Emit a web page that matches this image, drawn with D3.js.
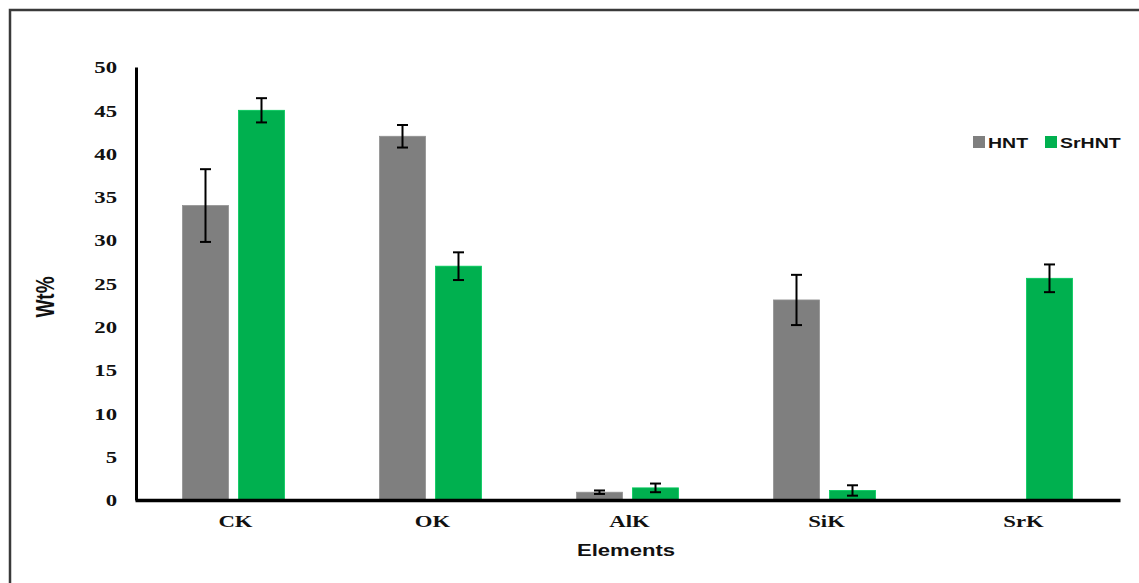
<!DOCTYPE html>
<html>
<head>
<meta charset="utf-8">
<script src="https://cdn.jsdelivr.net/npm/d3@7"></script>
<style>
  body { margin: 0; background: #fff; }
  svg { display: block; }
</style>
</head>
<body>
<div id="chart"></div>
<script>
// EDS element composition, HNT vs SrHNT
const categories = ["CK", "OK", "AlK", "SiK", "SrK"];
const hntValues = [34.0, 42.0, 0.9, 23.1, 0];
const hntErrors = [4.2, 1.3, 0.2, 2.9, 0];
const srhntValues = [45.0, 27.0, 1.4, 1.1, 25.6];
const srhntErrors = [1.4, 1.6, 0.5, 0.6, 1.6];
const seriesNames = ["HNT", "SrHNT"];
const seriesColors = ["#7f7f7f", "#00b04f"];
const yTicks = [0, 5, 10, 15, 20, 25, 30, 35, 40, 45, 50];

const W = 1139, H = 583;
const stretch = 1.38; // the original text is drawn wide

const svg = d3.select("#chart").append("svg")
  .attr("width", W)
  .attr("height", H);

// outer frame (open on right and bottom, runs off the picture)
svg.append("rect")
  .attr("x", 10).attr("y", 10)
  .attr("width", 1150).attr("height", 600)
  .attr("fill", "none")
  .attr("stroke", "#3a3a3a")
  .attr("stroke-width", 2.5);

const xScale = d3.scaleBand().domain(categories).range([135, 1120]);
const yScale = d3.scaleLinear().domain([0, 50]).range([500, 67]);

const barW = 46, gap = 10;
const series = [
  { name: seriesNames[0], values: hntValues, errors: hntErrors, color: seriesColors[0], off: -gap / 2 - barW },
  { name: seriesNames[1], values: srhntValues, errors: srhntErrors, color: seriesColors[1], off: gap / 2 }
];

// bars
series.forEach(function(s) {
  svg.append("g").selectAll("rect")
    .data(categories)
    .enter()
    .append("rect")
    .attr("x", function(d) { return xScale(d) + xScale.bandwidth() / 2 + s.off; })
    .attr("y", function(d, i) { return yScale(s.values[i]); })
    .attr("width", barW)
    .attr("height", function(d, i) { return yScale(0) - yScale(s.values[i]); })
    .attr("fill", s.color)
    .attr("stroke", d3.color(s.color).brighter(0.4))
    .attr("stroke-width", 0.8);
});

// error bars
series.forEach(function(s) {
  const g = svg.append("g").attr("stroke", "#000").attr("stroke-width", 2);
  categories.forEach(function(c, i) {
    if (s.values[i] <= 0) return;
    const cx = xScale(c) + xScale.bandwidth() / 2 + s.off + barW / 2;
    const hi = yScale(s.values[i] + s.errors[i]);
    const lo = yScale(s.values[i] - s.errors[i]);
    g.append("line").attr("x1", cx).attr("x2", cx).attr("y1", hi).attr("y2", lo);
    g.append("line").attr("x1", cx - 5.5).attr("x2", cx + 5.5).attr("y1", hi).attr("y2", hi);
    g.append("line").attr("x1", cx - 5.5).attr("x2", cx + 5.5).attr("y1", lo).attr("y2", lo);
  });
});

// y axis
const gY = svg.append("g")
  .attr("transform", "translate(136,0)")
  .call(d3.axisLeft(yScale).tickValues(yTicks).tickSize(0).tickSizeOuter(0));
gY.select(".domain").attr("stroke", "#000").attr("stroke-width", 3);
gY.selectAll(".tick text")
  .attr("x", -19 / stretch)
  .attr("dy", "0.35em")
  .attr("transform", "scale(" + stretch + ",1)")
  .style("font-family", "'Liberation Serif', 'Times New Roman', serif")
  .style("font-weight", "bold")
  .style("font-size", "16.5px")
  .style("fill", "#111");

// x axis
const gX = svg.append("g")
  .attr("transform", "translate(0,500)")
  .call(d3.axisBottom(xScale).tickSize(0).tickSizeOuter(0));
gX.select(".domain").attr("stroke", "#000").attr("stroke-width", 3.5);
gX.selectAll(".tick").each(function() {
  const t = d3.select(this);
  const tr = t.attr("transform");
  t.attr("transform", tr.replace(/translate\(([-\d.]+)/, function(m, v) { return "translate(" + (+v + 2); }));
});
gX.selectAll(".tick text")
  .attr("y", 27)
  .attr("dy", 0)
  .attr("transform", "scale(" + stretch + ",1)")
  .style("font-family", "'Liberation Serif', 'Times New Roman', serif")
  .style("font-weight", "bold")
  .style("font-size", "16.5px")
  .style("fill", "#111");

// axis titles
svg.append("text")
  .attr("transform", "translate(626,556) scale(" + stretch + ",1)")
  .attr("text-anchor", "middle")
  .style("font-family", "'Liberation Sans', Arial, sans-serif")
  .style("font-weight", "bold")
  .style("font-size", "16px")
  .style("fill", "#111")
  .text("Elements");

svg.append("text")
  .attr("transform", "translate(54,297) rotate(-90) scale(1," + stretch + ")")
  .attr("text-anchor", "middle")
  .style("font-family", "'Liberation Sans', Arial, sans-serif")
  .style("font-weight", "bold")
  .style("font-size", "19px")
  .style("fill", "#111")
  .text("Wt%");

// legend
const legendX = [973, 1045];
const legend = svg.append("g");
series.forEach(function(s, i) {
  legend.append("rect")
    .attr("x", legendX[i]).attr("y", 136)
    .attr("width", 12).attr("height", 12)
    .attr("fill", s.color);
  legend.append("text")
    .attr("transform", "translate(" + (legendX[i] + 15) + ",148) scale(1.3,1)")
    .style("font-family", "'Liberation Sans', Arial, sans-serif")
    .style("font-weight", "bold")
    .style("font-size", "15px")
    .style("fill", "#111")
    .text(s.name);
});
</script>
</body>
</html>
